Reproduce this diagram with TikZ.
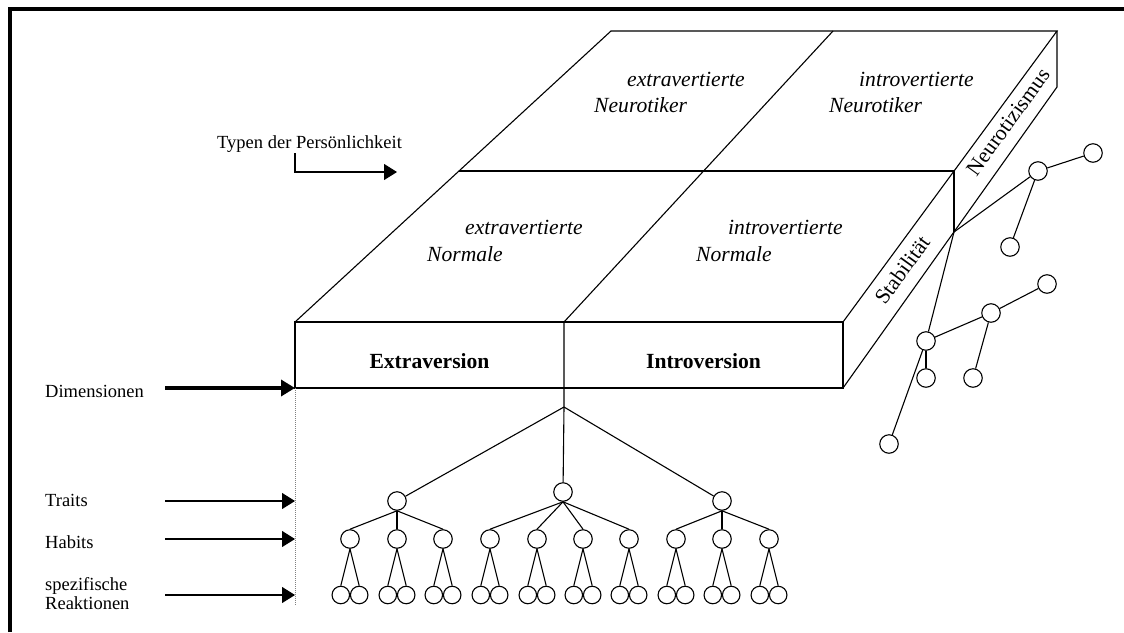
\documentclass[tikz,border=0pt]{standalone}
\usepackage{fontspec}
\setmainfont{Liberation Serif}
\usetikzlibrary{arrows.meta}
\begin{document}
\begin{tikzpicture}[x=1pt,y=-1pt,
  edge/.style={line width=1.1pt},
  dot/.style={circle,draw,line width=1.1pt,minimum size=18.5pt,inner sep=0pt},
  leaf/.style={dot,minimum size=17.5pt},
  lbl/.style={anchor=base west,inner sep=0pt,font=\fontsize{18.5}{22}\selectfont},
  quad/.style={anchor=base west,inner sep=0pt,font=\fontsize{21.6}{26}\selectfont\itshape},
  dimtext/.style={anchor=base,inner sep=0pt,font=\fontsize{21.6}{26}\selectfont\bfseries},
  sidetext/.style={rotate=54,inner sep=0pt,font=\fontsize{21.6}{26}\selectfont},
  pointer/.style={line width=1.1pt,-{Triangle[length=13pt,width=16pt]}},
]
\useasboundingbox (0,0) rectangle (1124,632);

% outer frame (top and left edges)
\draw[line width=3.2pt] (10,632) -- (10,9) -- (1124,9);

% corners of the slab
\coordinate (fl) at (295,322);
\coordinate (fm) at (564,322);
\coordinate (fr) at (843,322);
\coordinate (bl) at (295,388);
\coordinate (bm) at (564,388);
\coordinate (br) at (843,388);
\coordinate (tl) at (611,31);
\coordinate (tm) at (833,31);
\coordinate (tr) at (1057,31);
\coordinate (trb) at (1057,87);
\coordinate (ml) at (459,171);
\coordinate (mr) at (954,171);
\coordinate (mrb) at (954,232);

% slab outline
\draw[edge] (fl) rectangle (br);
\draw[edge] (fl) -- (tl) -- (tr) -- (fr);
\draw[edge] (fm) -- (tm);
\draw[edge] (ml) -- (mr);
\draw[edge] (tr) -- (trb) -- (br);
\draw[edge] (mr) -- (mrb);

% quadrant labels on the top face
\node[quad] (q1a) at (627,86) {extravertierte};
\node[quad] (q1b) at (594,112) {Neurotiker};
\node[quad] (q2a) at (859,86) {introvertierte};
\node[quad] (q2b) at (829,112) {Neurotiker};
\node[quad] (q3a) at (465,234) {extravertierte};
\node[quad] (q3b) at (427,261) {Normale};
\node[quad] (q4a) at (728,234) {introvertierte};
\node[quad] (q4b) at (696,261) {Normale};

% front face labels
\node[dimtext] (ext) at (429.5,368) {Extraversion};
\node[dimtext] (int) at (703.5,368) {Introversion};

% side face labels
\node[sidetext] (stab) at (902,270) {Stabilität};
\node[sidetext] (neur) at (1008,122) {Neurotizismus};

% left-hand level labels
\node[lbl] (typen) at (217,148) {Typen der Persönlichkeit};
\node[lbl] (dimen) at (45,397) {Dimensionen};
\node[lbl] (traits) at (45,506) {Traits};
\node[lbl] (habits) at (45,548) {Habits};
\node[lbl] (spez) at (45,590) {spezifische};
\node[lbl] (reak) at (45,609) {Reaktionen};

% pointers
\coordinate (typS) at (295,153);
\coordinate (typE) at (397,172);
\draw[pointer] (typS) |- (typE);

\coordinate (dimS) at (165,388);
\coordinate (traitS) at (165,501);
\coordinate (traitE) at (295,501);
\coordinate (habS) at (165,539);
\coordinate (habE) at (295,539);
\coordinate (reaS) at (165,595);
\coordinate (reaE) at (295,595);
\coordinate (dotE) at (295,605);
\draw[line width=3.6pt,-{Triangle[length=14pt,width=16pt]}] (dimS) -- (bl);
\draw[pointer] (traitS) -- (traitE);
\draw[pointer] (habS) -- (habE);
\draw[pointer] (reaS) -- (reaE);
\draw[gray,densely dotted,line width=1pt] (bl) -- (dotE);

% hierarchy below the slab
\coordinate (branch) at (564,407);
\node[dot] (tL) at (397,501) {};
\node[dot] (tM) at (563,492) {};
\node[dot] (tR) at (722,501) {};
\draw[edge] (fm) -- (branch) -- (tM);
\draw[edge] (branch) -- (tL);
\draw[edge] (branch) -- (tR);

\foreach \x [count=\i] in {350,397,443,490,537,583,629,676,722,769} {
  \node[dot] (h\i) at (\x,539) {};
  \node[leaf] (l\i-a) at (\x-9.2,595) {};
  \node[leaf] (l\i-b) at (\x+9.2,595) {};
  \draw[edge] (h\i.south) -- (l\i-a.north);
  \draw[edge] (h\i.south) -- (l\i-b.north);
}
\foreach \i in {1,2,3} \draw[edge] (tL.south) -- (h\i.north);
\foreach \i in {4,5,6,7} \draw[edge] (tM.south) -- (h\i.north);
\foreach \i in {8,9,10} \draw[edge] (tR.south) -- (h\i.north);

% tree hanging off the side face
\node[dot] (rA) at (1038,171) {};
\node[dot] (rA1) at (1093,153) {};
\node[dot] (rA2) at (1010,247) {};
\node[dot] (rC) at (926,341) {};
\node[dot] (rC1) at (991,313) {};
\node[dot] (rC2) at (926,378) {};
\node[dot] (rC3) at (889,444) {};
\node[dot] (rC11) at (1047,284) {};
\node[dot] (rC12) at (973,378) {};
\draw[edge] (mrb) -- (rA);
\draw[edge] (mrb) -- (rC);
\draw[edge] (rC) -- (rC3);
\draw[edge] (rC) -- (rC1);
\draw[edge] (rC) -- (rC2);
\draw[edge] (rC1) -- (rC11);
\draw[edge] (rC1) -- (rC12);
\draw[edge] (rA) -- (rA1);
\draw[edge] (rA) -- (rA2);
\end{tikzpicture}
\end{document}
